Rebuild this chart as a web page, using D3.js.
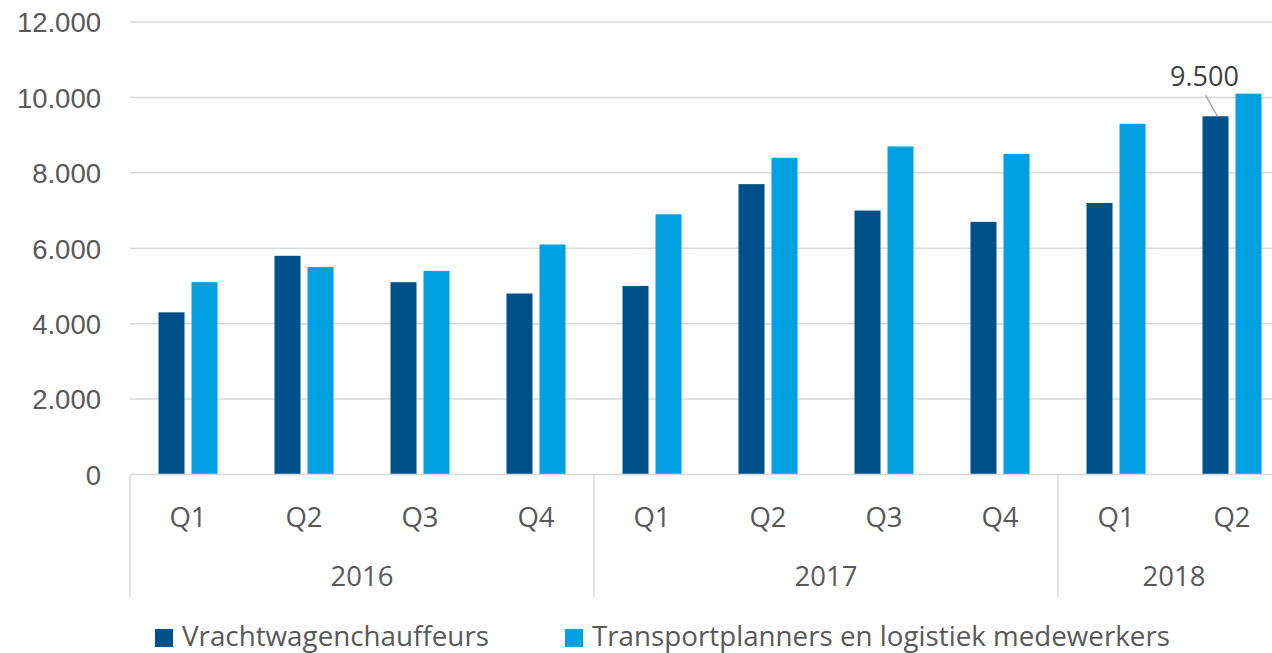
<!DOCTYPE html>
<html>
<head>
<meta charset="utf-8">
<script src="https://cdn.jsdelivr.net/npm/d3@7"></script>
<style>
  body { margin: 0; background: #fff; }
  svg { display: block; font-family: "Open Sans", sans-serif; }
</style>
</head>
<body>
<svg></svg>
<script>
let quarters = ["Q1", "Q2", "Q3", "Q4", "Q1", "Q2", "Q3", "Q4", "Q1", "Q2"]
let years = ["2016", "2016", "2016", "2016", "2017", "2017", "2017", "2017", "2018", "2018"]
let chauffeurs = [4300, 5800, 5100, 4800, 5000, 7700, 7000, 6700, 7200, 9500]
let planners = [5100, 5500, 5400, 6100, 6900, 8400, 8700, 8500, 9300, 10100]
let seriesNames = ["Vrachtwagenchauffeurs", "Transportplanners en logistiek medewerkers"]
let yTicks = [0, 2000, 4000, 6000, 8000, 10000, 12000]

let width = 1272
let height = 653
let colors = ["#00508a", "#00a0e3"]
let textColor = "#595959"
let gridColor = "#d9d9d9"

let svg = d3.select("svg").attr("width", width).attr("height", height)

let idx = d3.range(quarters.length)

let xScale = d3.scaleBand()
    .domain(idx)
    .range([130, 1290])

let yScale = d3.scaleLinear()
    .domain([0, 12000])
    .range([474.5, 22])

let fmt = (v) => d3.format(",")(v).replace(/,/g, ".")

// gridlines
svg.append("g")
    .selectAll("line")
    .data(yTicks.slice(1))
    .enter()
    .append("line")
    .attr("x1", 130)
    .attr("x2", width)
    .attr("y1", (d) => yScale(d))
    .attr("y2", (d) => yScale(d))
    .attr("stroke", gridColor)
    .attr("stroke-width", 1.5)

// y axis labels
let yAxis = d3.axisLeft(yScale).tickValues(yTicks).tickFormat(fmt).tickSize(0).tickPadding(29)
let yg = svg.append("g").attr("transform", "translate(130,0)").call(yAxis)
yg.select(".domain").remove()
yg.selectAll("text")
    .attr("fill", textColor)
    .style("font-size", "27.5px")
    .attr("dy", "0.36em")

// bars
let barW = 26
let gap = 7
let series = [chauffeurs, planners]
series.forEach((vals, s) => {
    svg.append("g")
        .selectAll("rect")
        .data(vals)
        .enter()
        .append("rect")
        .attr("x", (d, i) => xScale(i) + xScale.bandwidth() / 2 - barW - gap / 2 + s * (barW + gap))
        .attr("y", (d) => yScale(d))
        .attr("width", barW)
        .attr("height", (d) => yScale(0) - yScale(d))
        .attr("fill", colors[s])
})

// x axis line
svg.append("line")
    .attr("x1", 130).attr("x2", width)
    .attr("y1", yScale(0)).attr("y2", yScale(0))
    .attr("stroke", gridColor).attr("stroke-width", 1.5)

// quarter labels
svg.append("g")
    .selectAll("text")
    .data(quarters)
    .enter()
    .append("text")
    .attr("x", (d, i) => xScale(i) + xScale.bandwidth() / 2)
    .attr("y", 527)
    .attr("text-anchor", "middle")
    .attr("fill", textColor)
    .style("font-size", "27.5px")
    .text((d) => d)

// year groups
let yearGroups = Array.from(d3.group(idx, (i) => years[i]), ([k, v]) => ({ year: k, first: v[0], last: v[v.length - 1] }))

svg.append("g")
    .selectAll("line")
    .data(yearGroups)
    .enter()
    .append("line")
    .attr("x1", (d) => xScale(d.first))
    .attr("x2", (d) => xScale(d.first))
    .attr("y1", yScale(0))
    .attr("y2", 597)
    .attr("stroke", gridColor)
    .attr("stroke-width", 1.5)

svg.append("g")
    .selectAll("text")
    .data(yearGroups)
    .enter()
    .append("text")
    .attr("x", (d) => (xScale(d.first) + xScale(d.last) + xScale.bandwidth()) / 2)
    .attr("y", 586)
    .attr("text-anchor", "middle")
    .attr("fill", textColor)
    .style("font-size", "27.5px")
    .text((d) => d.year)

// data label for last chauffeurs value
let li = chauffeurs.length - 1
let lx = xScale(li) + xScale.bandwidth() / 2 - barW / 2 - gap / 2
svg.append("line")
    .attr("x1", lx - 10).attr("y1", 95)
    .attr("x2", lx + 2).attr("y2", yScale(chauffeurs[li]))
    .attr("stroke", "#a6a6a6").attr("stroke-width", 1.5)
svg.append("text")
    .attr("x", lx - 11)
    .attr("y", 86)
    .attr("text-anchor", "middle")
    .attr("fill", "#404040")
    .style("font-size", "27px")
    .text(fmt(chauffeurs[li]))

// legend
let legendX = [155, 565]
let lg = svg.append("g")
seriesNames.forEach((name, s) => {
    lg.append("rect")
        .attr("x", legendX[s]).attr("y", 629)
        .attr("width", 18).attr("height", 18)
        .attr("fill", colors[s])
    lg.append("text")
        .attr("x", legendX[s] + 27)
        .attr("y", 646)
        .attr("fill", textColor)
        .style("font-size", "27.5px")
        .attr("textLength", s == 0 ? 307 : 578)
        .attr("lengthAdjust", "spacingAndGlyphs")
        .text(name)
})
</script>
</body>
</html>
